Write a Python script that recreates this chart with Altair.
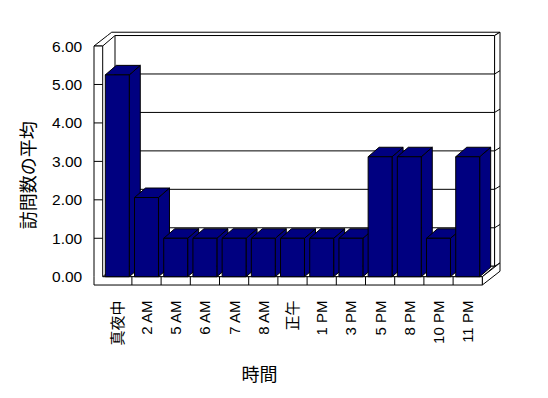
import json
import altair as alt
import pandas as pd

# ---------------- data ----------------
categories = ["真夜中", "2 AM", "5 AM", "6 AM", "7 AM", "8 AM", "正午",
              "1 PM", "3 PM", "5 PM", "8 PM", "10 PM", "11 PM"]
values = [5.25, 2.06, 1.0, 1.0, 1.0, 1.0, 1.0, 1.0, 1.0, 3.12, 3.12, 1.0, 3.12]
y_ticks = [0, 1, 2, 3, 4, 5, 6]
x_title = "時間"
y_title = "訪問数の平均"

# ---------------- style / layout ----------------
NAVY = "#000080"
FONT = "Liberation Sans, Noto Sans CJK JP, sans-serif"

X_MIN, X_MAX = -0.5, 13.75
Y_MIN, Y_MAX = -0.4, 6.5
PX_U, PX_V = 29.2, 38.45
PLOT_W = (X_MAX - X_MIN) * PX_U
PLOT_H = (Y_MAX - Y_MIN) * PX_V
PAD_L, PAD_T = 88.1, 26.8

N = len(categories)
TOP = max(y_ticks)
GAP = 0.09                          # gap each side of a bar inside its category
BU, BV = 11.0 / PX_U, 9.5 / PX_V    # bar depth
DU, DV = 12.3 / PX_U, 10.5 / PX_V   # depth from front plane to back wall
TU, TV = 5.4 / PX_U, 3.3 / PX_V     # back wall thickness
WW = 8.7 / PX_U                     # left wall thickness
FH = 8.3 / PX_V                     # floor thickness
EPS = 1e-4

xs = alt.Scale(domain=[X_MIN, X_MAX], nice=False, zero=False)
ys = alt.Scale(domain=[Y_MIN, Y_MAX], nice=False, zero=False)

label_expr = f"{json.dumps(categories, ensure_ascii=False)}[round(datum.value - 0.5)]"
X_AXIS = alt.Axis(
    values=[i + 0.5 for i in range(N)], labelExpr=label_expr,
    labelAngle=270, labelAlign="right", labelBaseline="middle", labelPadding=8,
    labelFont=FONT, labelFontSize=15, labelColor="black",
    labelOverlap=False, labelFlush=False,
    domain=False, ticks=False, tickSize=0, grid=False,
    title=x_title, titleFont=FONT, titleFontSize=18, titleFontWeight="normal",
    titleColor="black", titleX=171, titleY=83, titleAlign="center",
    titleBaseline="middle", titleAngle=0,
)
Y_AXIS = alt.Axis(
    values=y_ticks, format=".2f",
    labelFont=FONT, labelFontSize=15.5, labelColor="black", labelPadding=6.4,
    labelAlign="right", labelBaseline="middle", labelOverlap=False, labelFlush=False,
    domain=False, ticks=False, tickSize=0, grid=False,
    title=y_title, titleFont=FONT, titleFontSize=18, titleFontWeight="normal",
    titleColor="black", titleX=-59, titleY=148, titleAngle=270,
    titleAlign="center", titleBaseline="middle",
)


def xq(f):
    return alt.X(f"{f}:Q", scale=xs, axis=X_AXIS, stack=False)


def yq(f):
    return alt.Y(f"{f}:Q", scale=ys, axis=Y_AXIS, stack=False)


def rects(rows, fill):
    return alt.Chart(pd.DataFrame(rows)).mark_rect(
        fill=fill, stroke="black", strokeWidth=1
    ).encode(x=xq("x"), x2="x2", y=yq("y"), y2="y2")


def varea(rows, fill):
    return alt.Chart(pd.DataFrame(rows)).mark_area(
        orient="vertical", fill=fill, stroke="black", strokeWidth=1, opacity=1
    ).encode(x=xq("x"), y=yq("y"), y2="y2", detail="id:N")


def harea(rows, fill):
    return alt.Chart(pd.DataFrame(rows)).mark_area(
        orient="horizontal", fill=fill, stroke="black", strokeWidth=1, opacity=1
    ).encode(y=yq("y"), x=xq("x"), x2="x2", detail="id:N")


def segs(rows):
    return alt.Chart(pd.DataFrame(rows)).mark_rule(
        color="black", strokeWidth=1
    ).encode(x=xq("x"), x2="x2", y=yq("y"), y2="y2")


# ---------------- box (walls and floor) ----------------
back_face = rects([{"x": DU, "x2": N + DU, "y": DV, "y2": TOP + DV}], "white")


def left_outer(v):
    return -WW + (DU + TU) * (v - TOP) / (DV + TV)


wall_top = harea([
    {"id": 0, "y": TOP, "x": -WW, "x2": 0},
    {"id": 0, "y": TOP + DV, "x": left_outer(TOP + DV), "x2": DU},
    {"id": 0, "y": TOP + DV + EPS, "x": left_outer(TOP + DV + EPS), "x2": N + DU},
    {"id": 0, "y": TOP + DV + TV, "x": -WW + DU + TU, "x2": N + DU + TU},
], "white")

wall_right = varea([
    {"id": 0, "x": N + DU, "y": DV, "y2": TOP + DV},
    {"id": 0, "x": N + DU + TU, "y": DV + TV, "y2": TOP + DV + TV},
], "white")

grid_rows = []
for t in y_ticks[1:-1]:
    grid_rows.append({"x": DU, "x2": N + DU, "y": t + DV, "y2": t + DV})
    grid_rows.append({"x": N + DU, "x2": N + DU + TU, "y": t + DV, "y2": t + DV + TV})
grid = segs(grid_rows)

floor_top = harea([
    {"id": 0, "y": 0, "x": 0, "x2": N},
    {"id": 0, "y": DV, "x": DU, "x2": N + DU},
], "white")

floor_right = varea([
    {"id": 0, "x": N, "y": -FH, "y2": 0},
    {"id": 0, "x": N + DU + TU, "y": -FH + DV + TV, "y2": DV + TV},
], "white")

front_L = harea([
    {"id": 0, "y": -FH, "x": -WW, "x2": N},
    {"id": 0, "y": 0, "x": -WW, "x2": N},
    {"id": 0, "y": EPS, "x": -WW, "x2": 0},
    {"id": 0, "y": TOP, "x": -WW, "x2": 0},
], "white")

wall_ticks = segs([{"x": -WW, "x2": 0, "y": t, "y2": t} for t in y_ticks[1:-1]])
floor_div = segs([{"x": k, "x2": k, "y": -FH, "y2": 0} for k in range(1, N)])

# ---------------- bars ----------------
side_rows, top_rows, front_rows = [], [], []
for i, val in enumerate(values):
    l, r = i + GAP, i + 1 - GAP
    side_rows += [
        {"id": i, "x": r, "y": 0, "y2": val},
        {"id": i, "x": r + BU, "y": BV, "y2": val + BV},
    ]
    top_rows += [
        {"id": i, "y": val, "x": l, "x2": r},
        {"id": i, "y": val + BV, "x": l + BU, "x2": r + BU},
    ]
    front_rows.append({"x": l, "x2": r, "y": 0, "y2": val, "cat": categories[i]})

bar_side = varea(side_rows, NAVY)
bar_top = harea(top_rows, NAVY)
bar_front = rects(front_rows, NAVY)

chart = alt.layer(
    back_face, wall_top, wall_right, grid, floor_top, floor_right,
    front_L, wall_ticks, floor_div,
    bar_side, bar_top, bar_front,
).properties(
    width=PLOT_W, height=PLOT_H,
    padding={"left": PAD_L, "top": PAD_T,
             "right": 548 - PAD_L - PLOT_W, "bottom": 398 - PAD_T - PLOT_H},
    autosize=alt.AutoSizeParams(type="none"),
    background="white",
).configure_view(stroke=None)

chart.save("out.html", embed_options={"renderer": "svg", "actions": False})
